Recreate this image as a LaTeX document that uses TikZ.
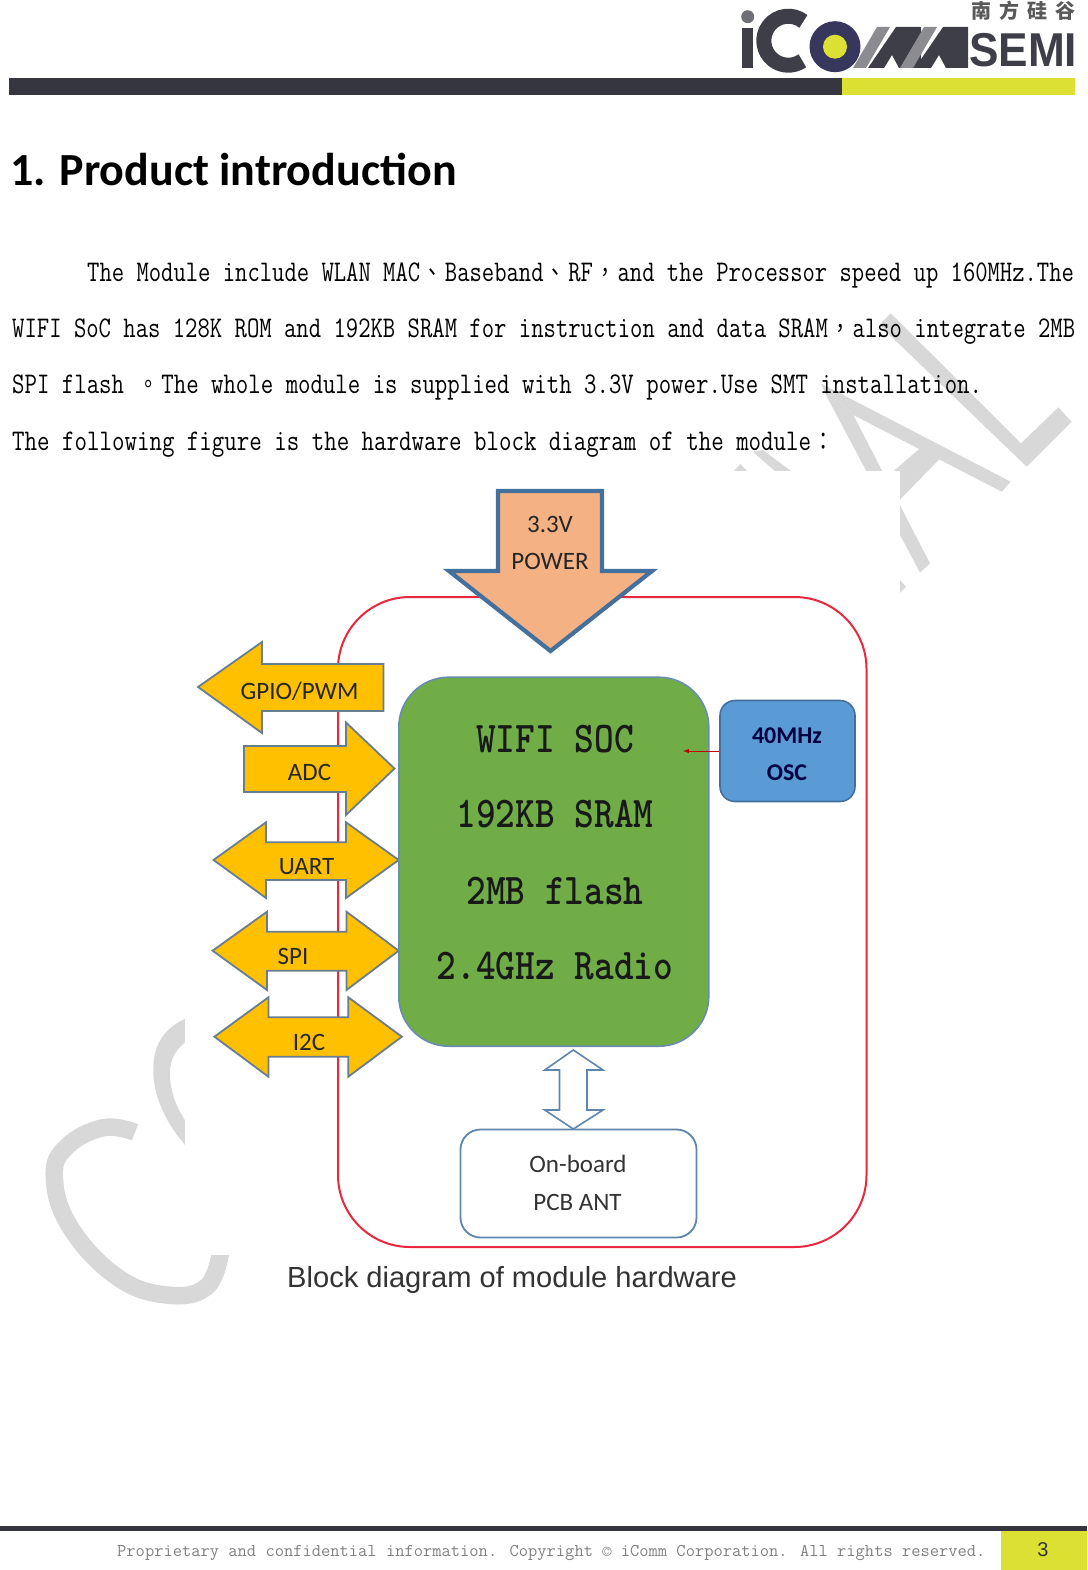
\documentclass[tikz,border=0pt]{standalone}
\usepackage{fontspec}
\usepackage{graphicx}
\setmainfont{Carlito}
\newfontfamily\cjkfont{Noto Sans CJK SC}
\newfontfamily\cjkpunct{Noto Sans CJK TC}
\newfontfamily\arialfont{Liberation Sans}
\definecolor{Darkbar}{RGB}{53,54,64}
\definecolor{Limebar}{RGB}{219,224,51}
\definecolor{Watermark}{RGB}{216,216,216}
\definecolor{Framered}{RGB}{232,40,60}
\definecolor{Powerfill}{RGB}{244,177,131}
\definecolor{Edgeblue}{RGB}{68,112,157}
\definecolor{Busgold}{RGB}{255,192,0}
\definecolor{Busedge}{RGB}{105,125,145}
\definecolor{Socgreen}{RGB}{112,173,71}
\definecolor{Oscblue}{RGB}{91,155,213}
\definecolor{Logogrey}{RGB}{62,62,72}
\newcommand{\bodyline}[2][1]{\scalebox{#1}[1.25]{\frenchspacing #2}}
\newcommand{\widepunct}[1]{\makebox[24.72pt][c]{\cjkpunct\fontsize{20}{20}\selectfont #1}}
\tikzset{
    bodytext/.style={anchor=base west,inner sep=0pt,text=black,font=\ttfamily\fontsize{24}{28}\selectfont},
    footertext/.style={anchor=base west,inner sep=0pt,text=black!50,font=\ttfamily\fontsize{18}{20}\selectfont},
    bustext/.style={inner sep=0pt,text=black!85,font=\fontsize{25}{28}\selectfont},
    boxtext/.style={inner sep=0pt,text=black!80,font=\fontsize{25}{28}\selectfont},
    osctext/.style={inner sep=0pt,text=blue!25!black,font=\bfseries\fontsize{24}{28}\selectfont},
    soctext/.style={anchor=base,inner sep=0pt,text=black!90,font=\ttfamily\bfseries\fontsize{37.5}{40}\selectfont},
    busarrow/.style={draw=Busedge,fill=Busgold,line width=1.8pt,line join=miter},
    socbox/.style={draw=Edgeblue!80,fill=Socgreen,line width=1.6pt,rounded corners=50pt,minimum width=310pt,minimum height=369pt},
    oscbox/.style={draw=Edgeblue,fill=Oscblue,line width=1.6pt,rounded corners=15pt,minimum width=135pt,minimum height=101pt},
    antbox/.style={draw=Edgeblue!85,fill=white,line width=1.8pt,rounded corners=20pt,minimum width=236pt,minimum height=108pt},
    wmark/.style={fill=Watermark,draw=none},
}
\begin{document}
\begin{tikzpicture}[x=1pt,y=-1pt]
    \useasboundingbox (0,0) rectangle (1087,1570);

    \fill[wmark] (890.7,313.3) -- (1021,443.3) -- (1058.3,407.3) -- (1071.7,421.7) -- (1026.7,466.7) -- (879.3,325) -- cycle;
    \fill[wmark] (820.7,383.3) -- (1010.7,481.7) -- (1001.7,491.7) -- (853.3,415) -- cycle;
    \fill[wmark] (920,448.3) -- (939.3,459.3) -- (880,520) -- (860,500) -- cycle;
    \fill[wmark] (820.7,383.3) -- (853.3,415) -- (930,563.3) -- (920,572.7) -- (826,395) -- cycle;
    \fill[wmark] (900,580) -- (906,586.7) -- (900,593) -- cycle;
    \fill[wmark] (734,471) -- (740.5,464) -- (747,471) -- cycle;
    \fill[wmark] (753,452) -- (763,450) -- (791,471) -- (775,471) -- cycle;
    \draw[Watermark,line width=17.5pt] plot[smooth,tension=0.7] coordinates {(135,1132.3) (103.3,1127.7) (66.7,1146.7) (54.3,1176.7) (70,1226.7) (116.7,1276.7) (166.7,1295) (206.7,1286.7) (221,1250)};
    \fill[wmark] (186,1018.3) .. controls (160,1030) and (153,1050) .. (153.3,1070) .. controls (153,1100) and (170,1128) .. (186,1146) -- (186,1122) .. controls (175,1105) and (170,1090) .. (170,1073) .. controls (170,1060) and (175,1050) .. (186,1041.7) -- cycle;
    \fill[white] (185,471) rectangle (900,1255);

    \fill[Darkbar] (9,78) rectangle (842,95);
    \fill[Limebar] (842,78) rectangle (1075,95);
    \fill[Darkbar] (0,1526) rectangle (1087,1531);
    \fill[Limebar] (1001,1531) rectangle (1087,1570);

    \fill[Logogrey] (741.7,28) rectangle (753.3,68);
    \fill[Logogrey!75] (747.7,16.7) circle (6.5);
    \draw[Logogrey,line width=15pt] (803.4,21.4) arc[start angle=-52,end angle=-305,radius=24.5];
    \fill[blue!12!Logogrey] (835,46.7) circle (25.5);
    \fill[Limebar] (835,46.7) circle (12);
    \foreach \dx in {0,47}{
        \fill[Logogrey!60] (853+\dx,68) -- (866+\dx,68) -- (890+\dx,27) -- (877+\dx,27) -- cycle;
        \fill[Logogrey] (868+\dx,68) -- (884+\dx,68) -- (892+\dx,55) -- (899+\dx,68) -- (921+\dx,68) -- (921+\dx,27) -- (896+\dx,27) -- cycle;
    }
    \node[anchor=base west,inner sep=0pt,text=Logogrey] (logosemi) at (969,67) {\scalebox{0.93}[1]{\arialfont\bfseries\fontsize{47.5}{50}\selectfont SEMI}};
    \node[anchor=north east,inner sep=0pt,text=black!65] (logocn) at (1076,1) {\cjkfont\bfseries\fontsize{20}{24}\selectfont 南\hspace{8pt}方\hspace{8pt}硅\hspace{8pt}谷};

    \node[anchor=base west,inner sep=0pt,text=black,font=\bfseries\fontsize{46}{50}\selectfont] (heading) at (10,186) {1. Product introduction};

    \node[bodytext] (line1) at (87,281) {\bodyline[0.998]{The Module include WLAN MAC\widepunct{、}Baseband\widepunct{、}RF\widepunct{，}and the Processor speed up 160MHz.The}};
    \node[bodytext] (line2) at (12,337) {\bodyline{WIFI SoC has 128K ROM and 192KB SRAM for instruction and data SRAM\widepunct{，}also integrate 2MB}};
    \node[bodytext] (line3) at (12,393) {\bodyline[1.006]{SPI flash \widepunct{。}The whole module is supplied with 3.3V power.Use SMT installation.}};
    \node[bodytext] (line4) at (12,450) {\bodyline[1.01]{The following figure is the hardware block diagram of the module\widepunct{：}}};

    \draw[Framered,line width=2pt,rounded corners=72pt] (338,597) rectangle (866.5,1247);

    \draw[draw=Edgeblue,fill=Powerfill,line width=4.2pt,line join=miter] (498,491) -- (602,491) -- (602,571) -- (652,571) -- (550.5,651) -- (449,571) -- (498,571) -- cycle;
    \node[bustext] (vin) at (550,524) {3.3V};
    \node[bustext] (power) at (550,561) {POWER};

    \draw[busarrow] (198,687) -- (262,642) -- (262,664) -- (383.5,664) -- (383.5,711) -- (262,711) -- (262,733) -- cycle;
    \node[bustext] (gpio) at (299.5,691) {GPIO/PWM};
    \draw[busarrow] (394.5,768.5) -- (346,722.5) -- (346,746) -- (244,746) -- (244,792) -- (346,792) -- (346,815) -- cycle;
    \node[bustext] (adc) at (309.5,772) {ADC};

    \foreach \ltip/\lback/\rback/\rtip/\headtop/\stemtop/\mid/\stembot/\headbot in {213.5/266/346/398.7/822.3/842.3/860/880/898, 212.6/267/346.5/398.7/911.7/931.7/950.7/970.7/990, 214.4/268.4/348.3/401.9/997.3/1017.3/1036.7/1056.7/1076.7}{
        \draw[busarrow] (\ltip,\mid) -- (\lback,\headtop) -- (\lback,\stemtop) -- (\rback,\stemtop) -- (\rback,\headtop) -- (\rtip,\mid) -- (\rback,\headbot) -- (\rback,\stembot) -- (\lback,\stembot) -- (\lback,\headbot) -- cycle;
    }
    \node[bustext] (uart) at (306.5,867) {UART};
    \node[bustext] (spi) at (293,956) {SPI};
    \node[bustext] (iic) at (309,1042) {I2C};

    \node[socbox] (soc) at (553.8,861.7) {};
    \foreach \nm/\ypos/\txt in {wifi/752/WIFI SOC,sram/827/192KB SRAM,flash/904/2MB flash,radio/979/2.4GHz Radio}{
        \node[soctext] (\nm) at (555,\ypos) {\scalebox{1}[1.17]{\txt}};
    }

    \node[oscbox] (osc) at (787.5,751) {};
    \node[osctext] (mhz) at (787,736) {40MHz};
    \node[osctext] (osclabel) at (787,773) {OSC};
    \coordinate (socpin) at (683,751);
    \draw[red!75!black,line width=1pt,->,>=latex] (osc.west) -- (socpin);

    \node[antbox] (ant) at (578.5,1183.5) {};
    \node[boxtext] (onboard) at (578,1164) {On-board};
    \node[boxtext] (pcbant) at (577.5,1202) {PCB ANT};

    \draw[draw=Edgeblue!85,fill=white,line width=1.6pt] (573.3,1050) -- (603,1070) -- (587,1070) -- (587,1110) -- (603,1110) -- (573.3,1129) -- (544.7,1110) -- (559.5,1110) -- (559.5,1070) -- (544.7,1070) -- cycle;

    \node[anchor=base west,inner sep=0pt,text=black!80,font=\arialfont\fontsize{29.1}{32}\selectfont] (caption) at (287,1287) {Block diagram of module hardware};

    \node[footertext] (footer) at (117,1556) {Proprietary and confidential information. Copyright © iComm Corporation. All rights reserved.};
    \node[inner sep=0pt,text=black!80,font=\arialfont\fontsize{20}{24}\selectfont] (pagenum) at (1043,1550) {3};
\end{tikzpicture}
\end{document}
